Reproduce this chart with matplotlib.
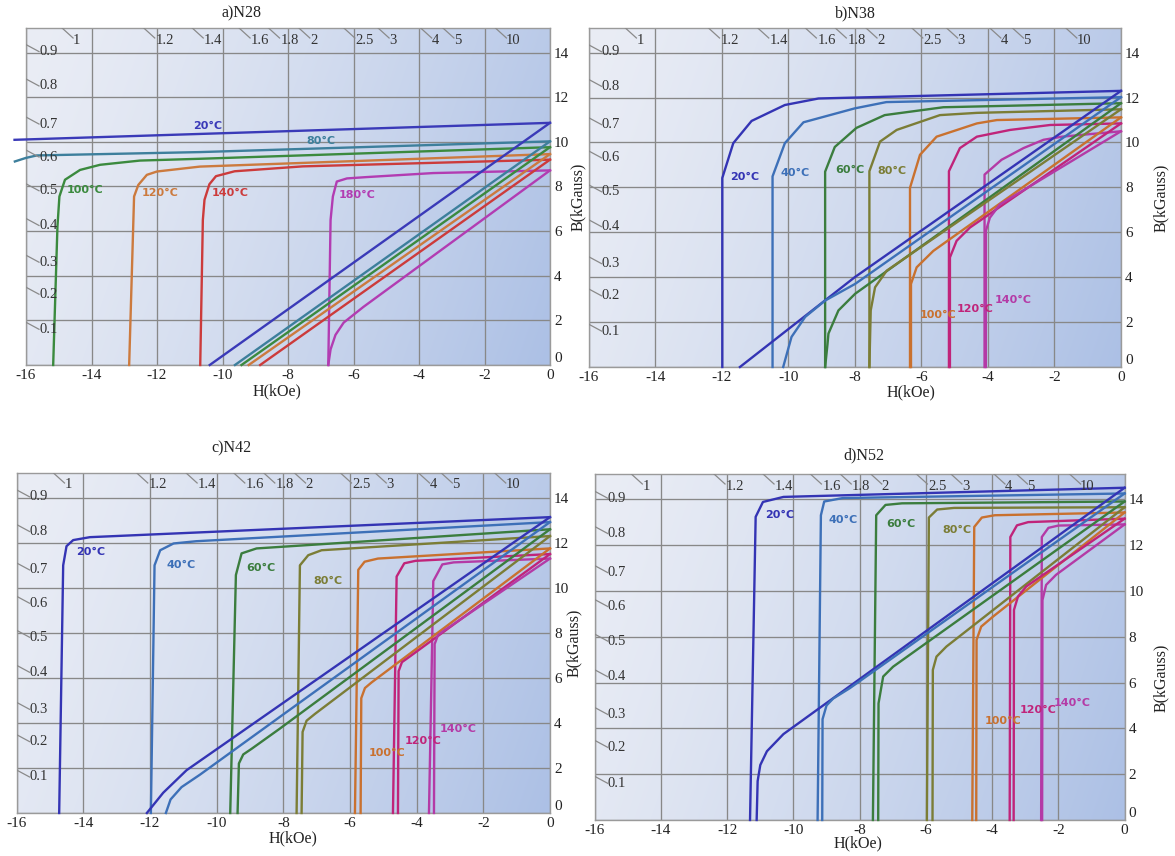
import numpy as np
import matplotlib
matplotlib.use("Agg")
import matplotlib.pyplot as plt
from matplotlib.lines import Line2D

# ---------------- data ----------------
H_TICKS = [-16, -14, -12, -10, -8, -6, -4, -2, 0]
B_TICKS = [0, 2, 4, 6, 8, 10, 12, 14]
PC_LEFT = ["0.1", "0.2", "0.3", "0.4", "0.5", "0.6", "0.7", "0.8", "0.9"]
PC_TOP = ["1", "1.2", "1.4", "1.6", "1.8", "2", "2.5", "3", "4", "5", "10"]
TITLES = ["a)N28", "b)N38", "c)N42", "d)N52"]

# panel a) N28
a_temps = ["20°C", "80°C", "100°C", "120°C", "140°C", "180°C"]
a_intrinsic = [
    [(-16.35, 10.09), (0, 10.85)],
    [(-16.34, 9.12), (-16.0, 9.28), (-15.67, 9.39), (-10.69, 9.54), (0, 10.02)],
    [(-15.17, 0), (-15.04, 6.2), (-14.98, 7.55), (-14.81, 8.3), (-14.35, 8.74),
     (-13.74, 8.97), (-12.52, 9.16), (-10.69, 9.24), (0, 9.76)],
    [(-12.85, 0), (-12.7, 7.55), (-12.57, 8.07), (-12.31, 8.52), (-12.0, 8.67),
     (-10.69, 8.89), (0, 9.45)],
    [(-10.68, 0), (-10.6, 6.5), (-10.55, 7.4), (-10.4, 8.1), (-10.2, 8.46),
     (-9.63, 8.68), (-7.55, 8.9), (0, 9.2)],
    [(-6.77, 0), (-6.7, 6.5), (-6.63, 7.55), (-6.51, 8.22), (-6.2, 8.36),
     (-5.6, 8.42), (-3.57, 8.6), (0, 8.72)],
]
a_normal = [
    [(-10.39, 0), (0, 10.85)],
    [(-9.62, 0), (0, 10.02)],
    [(-9.42, 0), (0, 9.76)],
    [(-9.2, 0), (0, 9.45)],
    [(-8.85, 0), (0, 9.2)],
    [(-6.77, 0), (-6.7, 0.7), (-6.55, 1.35), (-6.3, 1.9), (-5.7, 2.6), (0, 8.72)],
]

# panel b) N38
b_temps = ["20°C", "40°C", "60°C", "80°C", "100°C", "120°C", "140°C"]
b_intrinsic = [
    [(-11.98, 0), (-11.98, 8.42), (-11.65, 9.97), (-11.1, 10.96), (-10.1, 11.67),
     (-9.09, 11.96), (0, 12.3)],
    [(-10.47, 0), (-10.47, 8.49), (-10.1, 9.97), (-9.54, 10.9), (-8.0, 11.52),
     (-7.05, 11.8), (0, 12.02)],
    [(-8.89, 0), (-8.89, 8.7), (-8.6, 9.8), (-7.95, 10.65), (-7.1, 11.22),
     (-5.34, 11.57), (0, 11.75)],
    [(-7.56, 0), (-7.56, 8.72), (-7.24, 10.04), (-6.74, 10.56), (-5.44, 11.22),
     (-4.33, 11.32), (0, 11.48)],
    [(-6.34, 0), (-6.34, 7.98), (-6.04, 9.45), (-5.54, 10.26), (-4.33, 10.85),
     (-3.73, 11.0), (0, 11.12)],
    [(-5.17, 0), (-5.17, 8.72), (-4.84, 9.75), (-4.33, 10.26), (-3.33, 10.56),
     (-2.13, 10.78), (0, 10.85)],
    [(-4.1, 0), (-4.1, 8.57), (-3.59, 9.23), (-2.93, 9.75), (-2.33, 10.12),
     (-1.77, 10.26), (0, 10.5)],
]
b_normal = [
    [(-11.45, 0), (-8.0, 4.0), (0, 12.3)],
    [(-10.15, 0), (-9.9, 1.34), (-9.49, 2.23), (-8.89, 2.96), (-7.99, 3.7), (0, 12.02)],
    [(-8.89, 0), (-8.82, 1.0), (-8.79, 1.49), (-8.49, 2.52), (-7.99, 3.26), (0, 11.75)],
    [(-7.56, 0), (-7.52, 2.52), (-7.39, 3.55), (-7.04, 4.29), (0, 11.48)],
    [(-6.31, 0), (-6.31, 3.7), (-6.14, 4.44), (-5.64, 5.17), (0, 11.12)],
    [(-5.14, 0), (-5.14, 4.88), (-4.94, 5.62), (-4.54, 6.21), (0, 10.85)],
    [(-4.06, 0), (-4.06, 6.06), (-3.94, 6.65), (-3.64, 7.24), (0, 10.5)],
]

# panel c) N42
c_temps = ["20°C", "40°C", "60°C", "80°C", "100°C", "120°C", "140°C"]
c_intrinsic = [
    [(-14.72, 0), (-14.6, 11.0), (-14.5, 11.85), (-14.3, 12.12), (-13.8, 12.25), (0, 13.14)],
    [(-11.97, 0), (-11.86, 11.0), (-11.69, 11.67), (-11.29, 11.97), (-10.61, 12.07), (0, 12.92)],
    [(-9.59, 0), (-9.42, 10.57), (-9.25, 11.53), (-8.8, 11.75), (0, 12.6)],
    [(-7.6, 0), (-7.5, 11.0), (-7.25, 11.45), (-6.85, 11.67), (0, 12.3)],
    [(-5.85, 0), (-5.75, 10.8), (-5.56, 11.16), (-5.16, 11.3), (0, 11.75)],
    [(-4.71, 0), (-4.6, 10.5), (-4.37, 11.09), (-4.03, 11.2), (0, 11.5)],
    [(-3.63, 0), (-3.5, 10.3), (-3.23, 11.04), (-2.89, 11.13), (0, 11.3)],
]
c_normal = [
    [(-12.09, 0), (-11.6, 0.9), (-10.9, 1.9), (-8.1, 4.79), (0, 13.14)],
    [(-11.52, 0), (-11.38, 0.6), (-11.05, 1.15), (-10.5, 1.7), (-8.1, 4.27), (0, 12.92)],
    [(-9.37, 0), (-9.33, 2.2), (-9.2, 2.6), (-8.95, 2.85), (-8.1, 3.75), (0, 12.6)],
    [(-7.45, 0), (-7.42, 3.6), (-7.3, 4.1), (-7.05, 4.4), (0, 12.3)],
    [(-5.68, 0), (-5.66, 5.1), (-5.55, 5.55), (-5.35, 5.8), (0, 11.75)],
    [(-4.56, 0), (-4.54, 6.3), (-4.44, 6.7), (-4.25, 6.9), (0, 11.5)],
    [(-3.48, 0), (-3.46, 7.5), (-3.36, 7.9), (-3.18, 8.1), (0, 11.3)],
]

# panel d) N52
d_temps = ["20°C", "40°C", "60°C", "80°C", "100°C", "120°C", "140°C"]
d_intrinsic = [
    [(-11.31, 0), (-11.14, 13.23), (-10.92, 13.88), (-10.3, 14.1), (0, 14.5)],
    [(-9.27, 0), (-9.17, 13.3), (-9.07, 13.9), (-8.51, 14.05), (0, 14.25)],
    [(-7.6, 0), (-7.5, 13.3), (-7.22, 13.75), (-6.72, 13.82), (0, 13.9)],
    [(-5.97, 0), (-5.91, 13.2), (-5.66, 13.55), (-5.15, 13.62), (0, 13.65)],
    [(-4.6, 0), (-4.54, 12.79), (-4.31, 13.2), (-3.92, 13.3), (0, 13.42)],
    [(-3.47, 0), (-3.45, 12.35), (-3.25, 12.86), (-2.91, 13.0), (0, 13.15)],
    [(-2.52, 0), (-2.5, 12.35), (-2.3, 12.75), (-2.0, 12.85), (0, 12.9)],
]
d_normal = [
    [(-11.11, 0), (-11.08, 1.7), (-11.0, 2.4), (-10.8, 3.0), (-10.3, 3.75), (0, 14.5)],
    [(-9.13, 0), (-9.12, 4.4), (-9.0, 5.0), (-8.8, 5.3), (-8.3, 5.75), (0, 14.25)],
    [(-7.44, 0), (-7.43, 5.09), (-7.29, 6.26), (-6.99, 6.69), (0, 13.9)],
    [(-5.8, 0), (-5.79, 6.55), (-5.68, 7.13), (-5.38, 7.57), (0, 13.65)],
    [(-4.48, 0), (-4.47, 7.86), (-4.33, 8.44), (-3.97, 8.88), (0, 13.42)],
    [(-3.35, 0), (-3.34, 9.17), (-3.22, 9.75), (-2.97, 10.19), (0, 13.15)],
    [(-2.49, 0), (-2.48, 9.6), (-2.37, 10.26), (-2.07, 10.7), (0, 12.9)],
]

# ---------------- layout / style ----------------
W, H = 1175, 856
DPI = 100
SERIF = ["Liberation Serif", "DejaVu Serif"]

a_colors = ["#3a3ab8", "#3d7f9c", "#3b8a3e", "#cc7a3e", "#cc3b3b", "#b23cb2"]
bcd_colors = ["#3434b4", "#3d70b8", "#3b7d3e", "#7b7d36", "#c9712f", "#c0247a", "#b43aa6"]

a_label_pos = [(-10.45, 10.7), (-7.0, 10.05), (-14.2, 7.85), (-11.89, 7.7), (-9.77, 7.7), (-5.9, 7.62)]
b_label_pos = [(-11.3, 8.45), (-9.8, 8.64), (-8.15, 8.77), (-6.89, 8.75), (-5.49, 2.3), (-4.39, 2.59), (-3.23, 3.0)]
c_label_pos = [(-13.79, 11.6), (-11.07, 11.01), (-8.68, 10.87), (-6.67, 10.3), (-4.89, 2.68), (-3.82, 3.2), (-2.76, 3.75)]
d_label_pos = [(-10.41, 13.3), (-8.51, 13.11), (-6.76, 12.9), (-5.06, 12.65), (-3.68, 4.3), (-2.6, 4.8), (-1.57, 5.12)]

PC_LEFT_Y = [0.106, 0.21, 0.305, 0.414, 0.517, 0.617, 0.715, 0.828, 0.93]
PC_TOP_X = [-14.45, -11.76, -10.28, -8.85, -7.95, -7.22, -5.65, -4.8, -3.5, -2.82, -1.12]

# axes boxes in pixels: left, top, right, bottom
boxes = [(26, 28, 550, 365), (588.5, 28, 1121, 367), (16.5, 473, 550, 813), (594.7, 474, 1124.6, 820)]
title_px = [(242, 13), (855, 13), (231, 448), (864, 455)]
xlabel_x = [-8.34, -6.3, -7.72, -8.06]
xlabel_off = [26, 25, 25, 23]
ylabel_pos = [(1.053, 0.5), (1.075, 0.5), (1.045, 0.5), (1.068, 0.41)]
YMAX = 15.1

fig = plt.figure(figsize=(W / DPI, H / DPI), dpi=DPI)
fig.patch.set_facecolor("white")

c0 = np.array([234, 237, 245]) / 255.0
c1 = np.array([172, 192, 229]) / 255.0
gx, gy = np.meshgrid(np.linspace(0, 1, 200), np.linspace(0, 1, 100))
t = np.clip(0.82 * gx + 0.18 * gy, 0, 1) ** 1.3
grad = (1 - t)[..., None] * c0 + t[..., None] * c1

panels = [
    (a_temps, a_intrinsic, a_normal, a_colors, a_label_pos),
    (b_temps, b_intrinsic, b_normal, bcd_colors, b_label_pos),
    (c_temps, c_intrinsic, c_normal, bcd_colors, c_label_pos),
    (d_temps, d_intrinsic, d_normal, bcd_colors, d_label_pos),
]

for i, (temps, intr, norm, cols, lpos) in enumerate(panels):
    l, tp, r, b = boxes[i]
    ax = fig.add_axes([l / W, (H - b) / H, (r - l) / W, (b - tp) / H])
    wpx, hpx = r - l, b - tp
    ax.imshow(grad, extent=(-16, 0, 0, YMAX), aspect="auto", zorder=0,
              interpolation="bicubic", origin="upper")
    ax.set_xlim(-16, 0)
    ax.set_ylim(0, YMAX)
    ax.set_xticks(H_TICKS)
    ax.set_xticklabels([str(v) for v in H_TICKS], fontfamily=SERIF, fontsize=11)
    ax.yaxis.tick_right()
    ax.set_yticks(B_TICKS)
    ax.set_yticklabels([str(v) for v in B_TICKS], fontfamily=SERIF, fontsize=11)
    ax.tick_params(length=0, pad=3, colors="#222222")
    ax.yaxis.get_major_ticks()[0].label2.set_verticalalignment("bottom")
    ax.grid(True, color="#888888", lw=0.95)
    ax.set_axisbelow(True)
    for s in ax.spines.values():
        s.set_color("#9a9a9a")
        s.set_linewidth(1.0)

    for pts, col in zip(intr, cols):
        hx, by = zip(*pts)
        ax.plot(hx, by, color=col, lw=1.7, zorder=3, clip_on=False, solid_joinstyle="round")
    for pts, col in zip(norm, cols):
        hx, by = zip(*pts)
        ax.plot(hx, by, color=col, lw=1.7, zorder=3, clip_on=False, solid_joinstyle="round")
    for name, (lx, ly), col in zip(temps, lpos, cols):
        ax.text(lx, ly, name, color=col, fontsize=8, fontweight="bold",
                ha="center", va="center", zorder=4, family="DejaVu Sans")

    # permeance coefficient labels on the left
    for lab, yf in zip(PC_LEFT, PC_LEFT_Y):
        ax.text(13 / wpx, yf, lab, transform=ax.transAxes, ha="left", va="center",
                fontsize=10.5, fontfamily=SERIF, color="#333333", zorder=4)
        ax.add_line(Line2D([0, 13 / wpx], [yf + 7 / hpx, yf], transform=ax.transAxes,
                           color="#8a8a8a", lw=0.9, zorder=4))
    # permeance coefficient labels on top
    trans = ax.get_xaxis_transform()
    kpx = 16.0 / wpx
    for lab, xc in zip(PC_TOP, PC_TOP_X):
        half = 3.2 * len(lab) + 0.5
        ax.text(xc, 1 - 12 / hpx, lab, transform=trans, ha="center", va="center",
                fontsize=10.5, fontfamily=SERIF, color="#333333", zorder=4)
        ax.add_line(Line2D([xc - (half + 11) * kpx, xc - half * kpx], [1.0, 1 - 10 / hpx],
                           transform=trans, color="#8a8a8a", lw=0.9, zorder=4))

    ax.text(xlabel_x[i], -xlabel_off[i] / hpx, "H(kOe)", transform=trans, ha="center",
            va="center", fontsize=11.5, fontfamily=SERIF, color="#222222")
    ax.text(ylabel_pos[i][0], ylabel_pos[i][1], "B(kGauss)", transform=ax.transAxes,
            rotation=90, ha="center", va="center", fontsize=11.5, fontfamily=SERIF,
            color="#222222")
    fig.text(title_px[i][0] / W, 1 - title_px[i][1] / H, TITLES[i], ha="center",
             va="center", fontsize=11.5, fontfamily=SERIF, color="#222222")

fig.savefig("out.png", dpi=DPI, facecolor="white")
